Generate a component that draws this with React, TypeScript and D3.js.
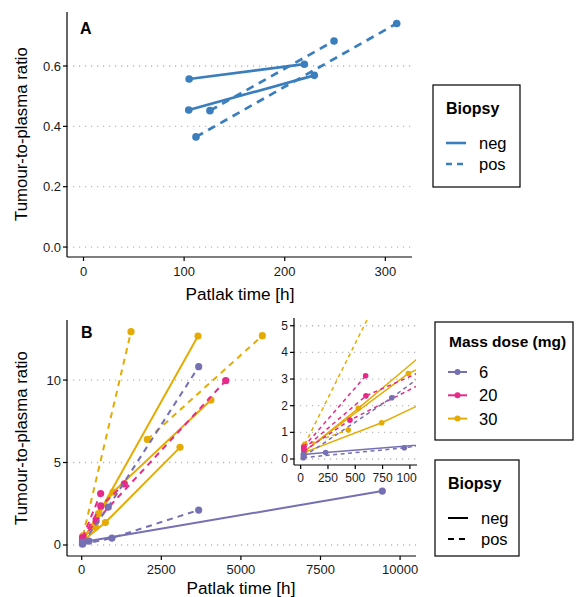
import React from 'react';
import * as d3 from 'd3';

// ---- data: panel A (one row per patient, points in scan order)
const biopsyA = ['neg', 'neg', 'pos', 'pos'];
const timeA = [
    [105, 219.5],
    [104.6, 229.4],
    [125.7, 249],
    [111.8, 311.3],
];
const ratioA = [
    [0.557, 0.606],
    [0.454, 0.569],
    [0.452, 0.683],
    [0.365, 0.741],
];

// ---- data: panel B
const doseB = [30, 30, 30, 30, 30, 30, 20, 20, 20, 6, 6, 6];
const biopsyB = ['pos', 'neg', 'neg', 'neg', 'pos', 'pos', 'pos', 'pos', 'pos', 'neg', 'pos', 'pos'];
const timeB = [
    [38, 1548],
    [35, 528, 3653],
    [35, 986, 4059],
    [35, 742, 3087],
    [2061, 5674],
    [30, 436],
    [28, 595],
    [28, 598, 1339],
    [30, 452, 4523],
    [24, 229, 9442],
    [24, 949, 3674],
    [30, 834, 3674],
];
const ratioB = [
    [0.55, 12.93],
    [0.28, 1.9, 12.67],
    [0.3, 3.21, 8.79],
    [0.25, 1.36, 5.92],
    [6.4, 12.69],
    [0.5, 1.09],
    [0.45, 3.12],
    [0.38, 2.37, 3.7],
    [0.3, 1.46, 9.96],
    [0.17, 0.24, 3.27],
    [0.05, 0.42, 2.12],
    [0.1, 2.3, 10.81],
];

const ticksA_x = [0, 100, 200, 300];
const ticksA_y = [0, 0.2, 0.4, 0.6];
const ticksB_x = [0, 2500, 5000, 7500, 10000];
const ticksB_y = [0, 5, 10];
const ticksI_x = [0, 250, 500, 750, 1000];
const ticksI_y = [0, 1, 2, 3, 4, 5];

const doses = [6, 20, 30];
const doseColors = ['#7570B3', '#E7298A', '#E6AB02'];
const blue = '#3B7EBE';

const font = '"Liberation Sans", Arial, sans-serif';
const gridStyle = { stroke: '#B8B8B8', strokeWidth: 1.3, strokeDasharray: '1.2 4.8' };

const xA = d3.scaleLinear([-16.4, 326.5], [67, 412]);
const yA = d3.scaleLinear([-0.033, 0.779], [257, 12]);
const xB = d3.scaleLinear([-462, 10500], [67, 416]);
const yB = d3.scaleLinear([-0.667, 13.64], [556, 320]);
const xI = d3.scaleLinear([-61, 1056], [294, 416]);
const yI = d3.scaleLinear([-0.225, 5.29], [465, 318]);

const doseColor = d3.scaleOrdinal<number, string>(doses, doseColors);

function Series({ xs, ys, x, y, color, dashed, width, dash, r }) {
    const pts = xs.map((t, i) => [x(t), y(ys[i])]);
    const line = d3.line();
    return (
        <g>
            <path
                d={line(pts)}
                fill="none"
                stroke={color}
                strokeWidth={width}
                strokeDasharray={dashed ? dash : undefined}
            />
            {pts.map((p, i) => (
                <circle key={i} cx={p[0]} cy={p[1]} r={r} fill={color} />
            ))}
        </g>
    );
}

function Axes({ x, y, xt, yt, fmtY, x0, x1, y0, y1, size, labelGap }) {
    return (
        <g fontFamily={font} fontSize={size} fill="#1a1a1a">
            <line x1={x0} x2={x0} y1={y0} y2={y1} stroke="black" strokeWidth={1.2} />
            <line x1={x0} x2={x1} y1={y1} y2={y1} stroke="black" strokeWidth={1.2} />
            {yt.map((t) => (
                <g key={'y' + t}>
                    <line x1={x0 - 4} x2={x0} y1={y(t)} y2={y(t)} stroke="black" strokeWidth={1.2} />
                    <text x={x0 - 6} y={y(t)} textAnchor="end" dominantBaseline="central">
                        {fmtY(t)}
                    </text>
                </g>
            ))}
            {xt.map((t) => (
                <g key={'x' + t}>
                    <line x1={x(t)} x2={x(t)} y1={y1} y2={y1 + 4} stroke="black" strokeWidth={1.2} />
                    <text x={x(t)} y={y1 + labelGap} textAnchor="middle" dominantBaseline="central">
                        {t}
                    </text>
                </g>
            ))}
        </g>
    );
}

function BiopsyLegend({ x, y, w, h, color, dash, width }) {
    return (
        <g fontFamily={font}>
            <rect x={x} y={y} width={w} height={h} fill="white" stroke="black" strokeWidth={1.2} />
            <text x={x + 13} y={y + 23} fontSize={16} fontWeight="bold" dominantBaseline="central">
                Biopsy
            </text>
            {['neg', 'pos'].map((b, i) => (
                <g key={b}>
                    <line
                        x1={x + 13}
                        x2={x + 33}
                        y1={y + 58 + i * 21}
                        y2={y + 58 + i * 21}
                        stroke={color}
                        strokeWidth={width}
                        strokeDasharray={b === 'pos' ? dash : undefined}
                    />
                    <text x={x + 46} y={y + 58 + i * 21} fontSize={16.5} dominantBaseline="central">
                        {b}
                    </text>
                </g>
            ))}
        </g>
    );
}

export default function App() {
    return (
        <svg width={576} height={597} style={{ position: 'absolute', left: 0, top: 0, background: 'white' }}>
            {/* ---------------- panel A ---------------- */}
            {ticksA_y.map((t) => (
                <line key={t} x1={67} x2={412} y1={yA(t)} y2={yA(t)} {...gridStyle} />
            ))}
            {timeA.map((xs, i) => (
                <Series
                    key={i}
                    xs={xs}
                    ys={ratioA[i]}
                    x={xA}
                    y={yA}
                    color={blue}
                    dashed={biopsyA[i] === 'pos'}
                    width={2.7}
                    dash="8 6"
                    r={3.8}
                />
            ))}
            <Axes x={xA} y={yA} xt={ticksA_x} yt={ticksA_y} fmtY={d3.format('.1f')} x0={67} x1={412} y0={12} y1={257} size={13} labelGap={14} />
            <text x={80} y={28} fontFamily={font} fontSize={16} fontWeight="bold" dominantBaseline="central">
                A
            </text>
            <text x={240} y={294} fontFamily={font} fontSize={17.2} textAnchor="middle" dominantBaseline="central">
                Patlak time [h]
            </text>
            <text
                transform="translate(21,134) rotate(-90)"
                fontFamily={font}
                fontSize={16.8}
                textAnchor="middle"
                dominantBaseline="central"
            >
                Tumour-to-plasma ratio
            </text>
            <BiopsyLegend x={433} y={85} w={87} h={102} color={blue} dash="6 5" width={2.6} />

            {/* ---------------- panel B ---------------- */}
            {ticksB_y.map((t) => (
                <line key={t} x1={67} x2={416} y1={yB(t)} y2={yB(t)} {...gridStyle} />
            ))}
            {timeB.map((xs, i) => (
                <Series
                    key={i}
                    xs={xs}
                    ys={ratioB[i]}
                    x={xB}
                    y={yB}
                    color={doseColor(doseB[i])}
                    dashed={biopsyB[i] === 'pos'}
                    width={2}
                    dash="6 5"
                    r={3.6}
                />
            ))}
            <Axes x={xB} y={yB} xt={ticksB_x} yt={ticksB_y} fmtY={(t) => t} x0={67} x1={416} y0={320} y1={556} size={13} labelGap={13} />
            <text x={81} y={332} fontFamily={font} fontSize={16} fontWeight="bold" dominantBaseline="central">
                B
            </text>
            <text x={241} y={588} fontFamily={font} fontSize={17.2} textAnchor="middle" dominantBaseline="central">
                Patlak time [h]
            </text>
            <text
                transform="translate(21,438) rotate(-90)"
                fontFamily={font}
                fontSize={16.8}
                textAnchor="middle"
                dominantBaseline="central"
            >
                Tumour-to-plasma ratio
            </text>

            {/* inset */}
            <defs>
                <clipPath id="inset-panel">
                    <rect x={294} y={318} width={122} height={147} />
                </clipPath>
                <clipPath id="inset-all">
                    <rect x={270} y={305} width={147} height={185} />
                </clipPath>
            </defs>
            <g clipPath="url(#inset-all)">
                <rect x={277} y={312} width={140} height={174} fill="white" />
                {ticksI_y.map((t) => (
                    <line key={t} x1={294} x2={416} y1={yI(t)} y2={yI(t)} {...gridStyle} />
                ))}
                <g clipPath="url(#inset-panel)">
                    {timeB.map((xs, i) => (
                        <Series
                            key={i}
                            xs={xs}
                            ys={ratioB[i]}
                            x={xI}
                            y={yI}
                            color={doseColor(doseB[i])}
                            dashed={biopsyB[i] === 'pos'}
                            width={1.5}
                            dash="4 3.5"
                            r={2.8}
                        />
                    ))}
                </g>
                <Axes x={xI} y={yI} xt={ticksI_x} yt={ticksI_y} fmtY={(t) => t} x0={294} x1={420} y0={318} y1={465} size={12} labelGap={13} />
            </g>

            {/* legends B */}
            <g fontFamily={font}>
                <rect x={435} y={322} width={138} height={118} fill="white" stroke="black" strokeWidth={1.2} />
                <text x={449} y={341} fontSize={15.5} fontWeight="bold" dominantBaseline="central">
                    Mass dose (mg)
                </text>
                {doses.map((d, i) => (
                    <g key={d}>
                        <line x1={448} x2={467} y1={372 + i * 23.3} y2={372 + i * 23.3} stroke={doseColor(d)} strokeWidth={2} />
                        <circle cx={457.5} cy={372 + i * 23.3} r={3} fill={doseColor(d)} />
                        <text x={479} y={372 + i * 23.3} fontSize={16.5} dominantBaseline="central">
                            {d}
                        </text>
                    </g>
                ))}
            </g>
            <BiopsyLegend x={435} y={460} w={84} h={96} color="black" dash="6 5" width={2} />
        </svg>
    );
}
